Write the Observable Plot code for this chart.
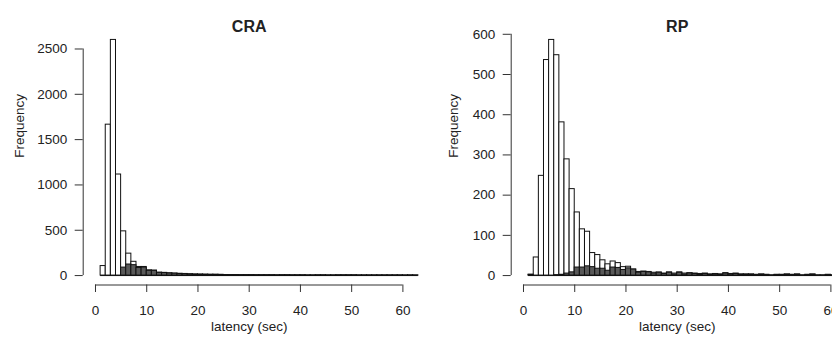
<!DOCTYPE html>
<html>
<head>
<meta charset="utf-8">
<script src="https://cdn.jsdelivr.net/npm/d3@7"></script>
<script src="https://cdn.jsdelivr.net/npm/@observablehq/plot@0.6"></script>
<style>
  html, body { margin: 0; padding: 0; background: white; overflow: hidden; }
  #row { display: flex; width: 856px; }
  #row > * { flex: none; }
</style>
</head>
<body>
<div id="row"></div>
<script>
// Bin left edges (sec), bin width 1 sec
const binStart = [1,2,3,4,5,6,7,8,9,10,11,12,13,14,15,16,17,18,19,20,21,22,23,24,25,26,27,28,29,30,31,32,33,34,35,36,37,38,39,40,41,42,43,44,45,46,47,48,49,50,51,52,53,54,55,56,57,58,59,60,61,62];
const binWidth = 1;

// CRA: all trials (white) and subset (dark grey)
const craAll = [105,1665,2600,1115,488,242,152,95,95,58,55,32,30,25,22,20,18,14,12,11,10,9,9,8,6,6,6,5,5,5,4,4,4,4,3,4,4,3,3,3,2,2,3,3,2,2,3,3,3,3,2,2,2,2,2,2,2,2,2,1,2,1];
const craSub = [0,0,0,0,88,122,115,84,88,52,52,30,28,23,21,17,16,13,11,10,9,8,8,7,5,5,5,4,4,4,3,3,3,3,2,3,3,2,2,2,1,1,2,2,1,1,2,2,2,2,1,1,1,1,1,1,1,1,1,1,1,1];

// RP: all trials (white) and subset (dark grey)
const rpAll = [2,45,248,536,586,548,381,289,215,157,115,109,56,51,38,28,35,31,21,22,15,9,10,9,7,8,5,8,5,8,5,6,5,4,5,3,4,3,6,4,5,3,3,3,2,3,2,1,2,2,3,2,3,1,2,3,1,1,2,1,2,1];
const rpSub = [2,0,0,0,0,1,2,5,8,20,20,23,21,17,17,12,20,19,14,18,15,7,9,8,5,6,4,7,3,7,3,5,4,2,4,2,3,2,5,3,4,2,2,2,1,2,1,0,1,1,2,1,2,0,1,2,0,0,1,0,1,0];

const craYTicks = [0,500,1000,1500,2000,2500];
const rpYTicks = [0,100,200,300,400,500,600];
const xTicks = [0,10,20,30,40,50,60];
const xLabel = "latency (sec)";
const yLabel = "Frequency";

const XMIN = -2.4, XMAX = 62.4;

function panel(title, all, sub, yTicks, ylabDx) {
  const M = d3.max(all);
  const ymin = -0.04 * M, ymax = 1.04 * M;
  const rows = binStart.map((s, i) => ({x1: s, x2: s + binWidth, all: all[i], sub: sub[i]}));
  return Plot.plot({
    width: 428,
    height: 341,
    marginLeft: 82.7,
    marginRight: 13.3,
    marginTop: 30,
    marginBottom: 56.5,
    x: {domain: [XMIN, XMAX]},
    y: {domain: [ymin, ymax]},
    style: {
      fontFamily: "'Liberation Sans', Arial, Helvetica, sans-serif",
      fontSize: "13.5px",
      color: "#222",
      background: "white",
      overflow: "visible"
    },
    marks: [
      Plot.rectY(rows.filter(d => d.all > 0), {x1: "x1", x2: "x2", y1: 0, y2: "all", fill: "white", stroke: "#111", strokeWidth: 1}),
      Plot.rectY(rows.filter(d => d.sub > 0), {x1: "x1", x2: "x2", y1: 0, y2: "sub", fill: "#595959", stroke: "#111", strokeWidth: 1}),
      Plot.ruleY([0], {x1: binStart[0], x2: binStart[binStart.length - 1] + binWidth, stroke: "#111"}),
      Plot.ruleX([XMIN], {y1: yTicks[0], y2: yTicks[yTicks.length - 1], stroke: "#333"}),
      Plot.ruleY([ymin], {x1: xTicks[0], x2: xTicks[xTicks.length - 1], stroke: "#333"}),
      Plot.axisY({ticks: yTicks, tickSize: 8, tickPadding: 8, label: null, tickFormat: d => String(d), stroke: "#333"}),
      Plot.axisX({ticks: xTicks, tickSize: 7.5, tickPadding: 12.5, label: null, tickFormat: d => String(d), stroke: "#333"}),
      Plot.text([title], {frameAnchor: "top", dy: -10, fontWeight: "bold", fontSize: 16, fill: "#222"}),
      Plot.text([xLabel], {frameAnchor: "bottom", dy: 45.5, fill: "#222"}),
      Plot.text([yLabel], {frameAnchor: "left", dx: ylabDx, rotate: -90, fill: "#222"})
    ]
  });
}

const row = document.getElementById("row");
row.appendChild(panel("CRA", craAll, craSub, craYTicks, -63.5));
row.appendChild(panel("RP", rpAll, rpSub, rpYTicks, -58));
</script>
</body>
</html>
